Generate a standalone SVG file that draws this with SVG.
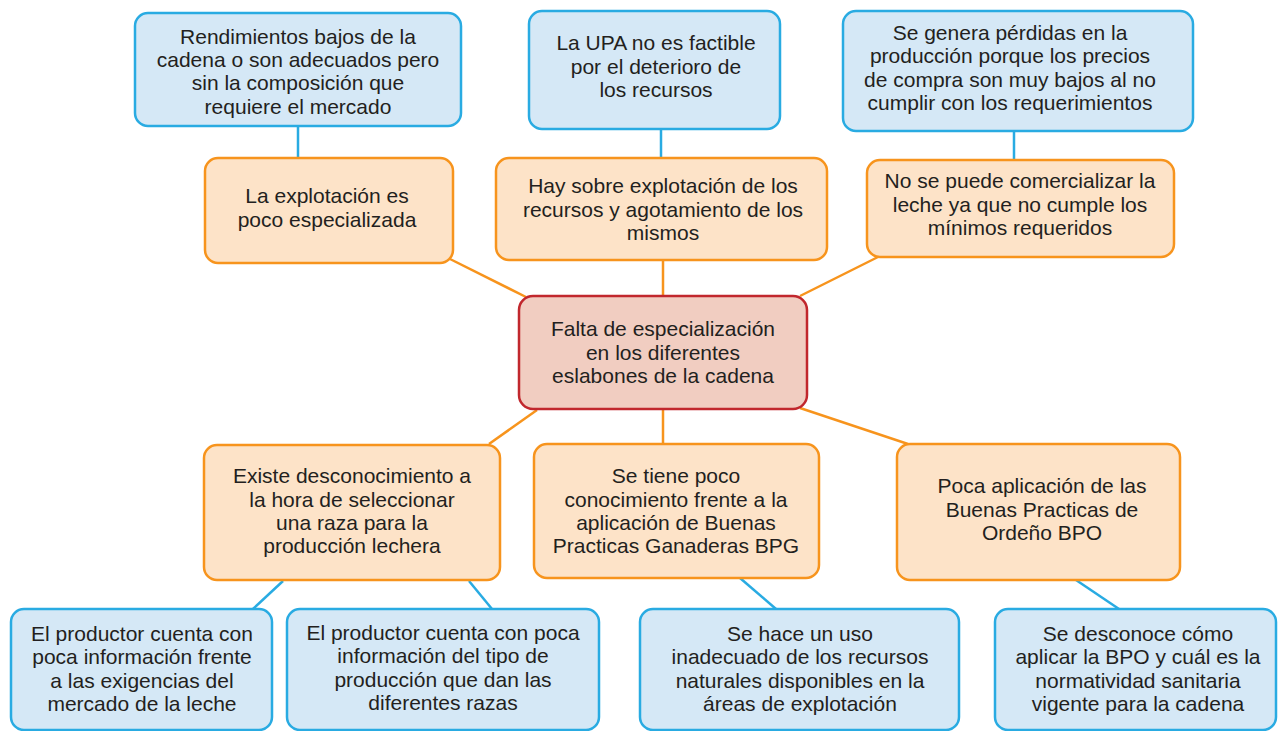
<svg xmlns="http://www.w3.org/2000/svg" width="1278" height="731" viewBox="0 0 1278 731">
<style>
.b{fill:#d5e8f6;stroke:#29abe2;stroke-width:2.5}
.o{fill:#fde3c8;stroke:#f7941d;stroke-width:2.5}
.r{fill:#f1cdc1;stroke:#c1272d;stroke-width:2.5}
.t{font-family:"Liberation Sans",Arial,sans-serif;font-size:21px;fill:#231f20;text-anchor:middle}
.co{stroke:#f7941d;stroke-width:2.5;fill:none}
.cb{stroke:#29abe2;stroke-width:2.5;fill:none}
</style>
<rect width="1278" height="731" fill="#ffffff"/>
<g id="connectors">
<line class="cb" x1="298" y1="126" x2="298" y2="158"/>
<line class="cb" x1="661" y1="129" x2="661" y2="158"/>
<line class="cb" x1="1014" y1="131" x2="1014" y2="160"/>
<line class="co" x1="450" y1="259" x2="526" y2="297"/>
<line class="co" x1="663" y1="260" x2="663" y2="296"/>
<line class="co" x1="878" y1="257" x2="800" y2="296"/>
<line class="co" x1="537" y1="410" x2="489" y2="444"/>
<line class="co" x1="663" y1="409" x2="663" y2="444"/>
<line class="co" x1="800" y1="408" x2="908" y2="444"/>
<line class="cb" x1="283" y1="581" x2="253" y2="609"/>
<line class="cb" x1="469" y1="581" x2="492" y2="609"/>
<line class="cb" x1="740" y1="578" x2="776" y2="609"/>
<line class="cb" x1="1076" y1="580" x2="1119" y2="609"/>
</g>
<g id="n1"><rect class="b" x="135" y="13" width="326" height="113" rx="13"/>
<text class="t" x="298" y="44">Rendimientos bajos de la</text><text class="t" x="298" y="67">cadena o son adecuados pero</text><text class="t" x="298" y="90">sin la composición que</text><text class="t" x="298" y="114">requiere el mercado</text></g>
<g id="n2"><rect class="b" x="529" y="11" width="251" height="118" rx="13"/>
<text class="t" x="656" y="50">La UPA no es factible</text><text class="t" x="656" y="74">por el deterioro de</text><text class="t" x="656" y="97">los recursos</text></g>
<g id="n3"><rect class="b" x="843" y="11" width="350" height="120" rx="13"/>
<text class="t" x="1010" y="40">Se genera pérdidas en la</text><text class="t" x="1010" y="63">producción porque los precios</text><text class="t" x="1010" y="87">de compra son muy bajos al no</text><text class="t" x="1010" y="110">cumplir con los requerimientos</text></g>
<g id="n4"><rect class="o" x="205" y="158" width="248" height="105" rx="13"/>
<text class="t" x="327" y="203">La explotación es</text><text class="t" x="327" y="227">poco especializada</text></g>
<g id="n5"><rect class="o" x="496" y="158" width="331" height="102" rx="13"/>
<text class="t" x="663" y="193">Hay sobre explotación de los</text><text class="t" x="663" y="217">recursos y agotamiento de los</text><text class="t" x="663" y="240">mismos</text></g>
<g id="n6"><rect class="o" x="867" y="160" width="307" height="97" rx="13"/>
<text class="t" x="1020" y="188">No se puede comercializar la</text><text class="t" x="1020" y="212">leche ya que no cumple los</text><text class="t" x="1020" y="235">mínimos requeridos</text></g>
<g id="center"><rect class="r" x="519" y="296" width="288" height="113" rx="14"/>
<text class="t" x="663" y="336">Falta de especialización</text><text class="t" x="663" y="360">en los diferentes</text><text class="t" x="663" y="383">eslabones de la cadena</text></g>
<g id="n7"><rect class="o" x="204" y="445" width="296" height="135" rx="13"/>
<text class="t" x="352" y="483">Existe desconocimiento a</text><text class="t" x="352" y="507">la hora de seleccionar</text><text class="t" x="352" y="530">una raza para la</text><text class="t" x="352" y="553">producción lechera</text></g>
<g id="n8"><rect class="o" x="534" y="444" width="285" height="134" rx="13"/>
<text class="t" x="676" y="483">Se tiene poco</text><text class="t" x="676" y="507">conocimiento frente a la</text><text class="t" x="676" y="530">aplicación de Buenas</text><text class="t" x="676" y="553">Practicas Ganaderas BPG</text></g>
<g id="n9"><rect class="o" x="897" y="444" width="283" height="136" rx="13"/>
<text class="t" x="1042" y="493">Poca aplicación de las</text><text class="t" x="1042" y="517">Buenas Practicas de</text><text class="t" x="1042" y="540">Ordeño BPO</text></g>
<g id="n10"><rect class="b" x="11" y="609" width="261" height="121" rx="13"/>
<text class="t" x="142" y="641">El productor cuenta con</text><text class="t" x="142" y="664">poca información frente</text><text class="t" x="142" y="688">a las exigencias del</text><text class="t" x="142" y="711">mercado de la leche</text></g>
<g id="n11"><rect class="b" x="287" y="609" width="312" height="121" rx="13"/>
<text class="t" x="443" y="640">El productor cuenta con poca</text><text class="t" x="443" y="663">información del tipo de</text><text class="t" x="443" y="687">producción que dan las</text><text class="t" x="443" y="710">diferentes razas</text></g>
<g id="n12"><rect class="b" x="640" y="609" width="319" height="121" rx="13"/>
<text class="t" x="800" y="641">Se hace un uso</text><text class="t" x="800" y="664">inadecuado de los recursos</text><text class="t" x="800" y="688">naturales disponibles en la</text><text class="t" x="800" y="711">áreas de explotación</text></g>
<g id="n13"><rect class="b" x="995" y="609" width="281" height="121" rx="13"/>
<text class="t" x="1138" y="641">Se desconoce cómo</text><text class="t" x="1138" y="664">aplicar la BPO y cuál es la</text><text class="t" x="1138" y="688">normatividad sanitaria</text><text class="t" x="1138" y="711">vigente para la cadena</text></g>
</svg>
